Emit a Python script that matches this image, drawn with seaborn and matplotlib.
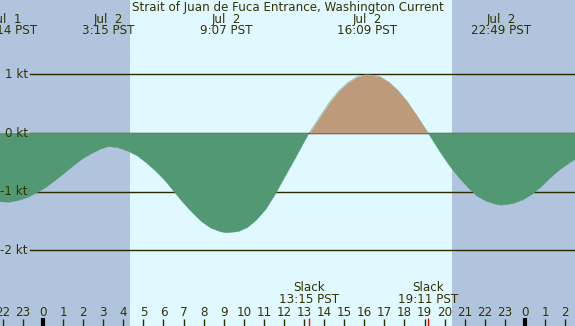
import matplotlib
matplotlib.use("Agg")
import matplotlib.pyplot as plt
import matplotlib.transforms as mtransforms
import numpy as np
import pandas as pd
import seaborn as sns

# ---- data (hours relative to Jul 2 00:00 PST, speed in knots) ----
hours = [-2.14, -1.69, -1.23, -0.77, -0.32, 0.14, 0.60, 1.05, 1.51, 1.97,
         2.42, 2.88, 3.25, 3.70, 4.25, 4.71, 5.16, 5.62, 6.08, 6.53,
         6.99, 7.45, 7.90, 8.36, 8.82, 9.12, 9.73, 10.19, 10.64, 11.10,
         11.56, 12.01, 12.47, 12.93, 13.25, 13.84, 14.29, 14.75, 15.21, 15.66,
         16.15, 16.76, 17.22, 17.67, 18.13, 18.59, 19.18, 19.77, 20.23, 20.69,
         21.14, 21.60, 22.06, 22.51, 22.82, 23.43, 23.88, 24.34, 24.80, 25.25,
         25.71, 26.17, 26.49]
speed = [-1.17, -1.18, -1.15, -1.10, -1.02, -0.93, -0.81, -0.69, -0.56, -0.44,
         -0.35, -0.27, -0.23, -0.245, -0.31, -0.39, -0.51, -0.65, -0.81, -1.00,
         -1.19, -1.36, -1.51, -1.62, -1.68, -1.70, -1.68, -1.61, -1.48, -1.30,
         -1.05, -0.77, -0.49, -0.20, 0.0, 0.31, 0.54, 0.73, 0.87, 0.965,
         1.0, 0.965, 0.87, 0.73, 0.54, 0.31, 0.0, -0.32, -0.55, -0.75,
         -0.92, -1.07, -1.16, -1.21, -1.23, -1.20, -1.14, -1.05, -0.92, -0.77,
         -0.63, -0.52, -0.45]

event_hours = [-1.77, 3.25, 9.117, 16.15, 22.817]
event_dates = ["Jul  1", "Jul  2", "Jul  2", "Jul  2", "Jul  2"]
event_times = ["22:14 PST", "3:15 PST", "9:07 PST", "16:09 PST", "22:49 PST"]

slack_hours = [13.25, 19.183]
slack_times = ["13:15 PST", "19:11 PST"]

sunrise, sunset = 4.33, 20.37
level_values = [1, 0, -1, -2]
level_labels = ["1 kt", "0 kt", "-1 kt", "-2 kt"]
hour_ticks = list(range(-2, 27))
hour_labels = [str(h % 24) for h in hour_ticks]
title = "Strait of Juan de Fuca Entrance, Washington Current"

# ---- style ----
NIGHT = "#b0c4de"
DAY = "#e0f8ff"
GREEN = "#529873"
TAN = "#bd9b7a"
INK = "#333300"
LINE = "#2b2b00"
FS = 8.6

W, H = 575, 326
fig = plt.figure(figsize=(W / 100, H / 100), dpi=100)
ax = fig.add_axes([0, 0, 1, 1])
x0, x1 = -2.14, 26.49
y0, y1 = -3.29, 2.27
ax.set_xlim(x0, x1)
ax.set_ylim(y0, y1)
ax.axis("off")

# day / night background
ax.axvspan(x0, x1, color=DAY, zorder=0, lw=0)
ax.axvspan(x0, sunrise, color=NIGHT, zorder=0.1, lw=0)
ax.axvspan(sunset, x1, color=NIGHT, zorder=0.1, lw=0)

# level lines
for v in level_values:
    ax.axhline(v, xmin=30 / W, xmax=1, color=LINE, lw=1.0, zorder=1)

df = pd.DataFrame({"hour": hours, "speed": speed})
sns.lineplot(data=df, x="hour", y="speed", ax=ax, color=GREEN, lw=0.3, zorder=1.5)
h = np.array(hours)
s = np.array(speed)
ax.fill_between(h, 0, s, where=s <= 0, interpolate=True, color=GREEN, lw=0, zorder=2)
ax.fill_between(h, 0, s, where=s >= 0, interpolate=True, color=TAN, lw=0, zorder=2)

# level labels
xlab = (28 - 43) / 20.08
for v, lab in zip(level_values, level_labels):
    ax.text(xlab, v, lab, ha="right", va="center", fontsize=FS, color=INK, zorder=3)

tr = mtransforms.blended_transform_factory(ax.transData, ax.transAxes)

# hour ticks and labels
for hh, lab in zip(hour_ticks, hour_labels):
    if hh % 24 == 0:
        ax.vlines(hh, 0, 8 / H, transform=tr, color="black", lw=3, zorder=3)
    else:
        ax.vlines(hh, 0, 7 / H, transform=tr, color=LINE, lw=1, zorder=3)
    ax.text(hh, 1 - 312.5 / H, lab, transform=tr, ha="center", va="center",
            fontsize=FS, color=INK, zorder=3)

# slack markers
for hh, t in zip(slack_hours, slack_times):
    ax.vlines(hh, 0, 8 / H, transform=tr, color="red", lw=1, zorder=3)
    ax.text(hh, 1 - 287.5 / H, "Slack", transform=tr, ha="center", va="center",
            fontsize=FS, color=INK, zorder=3)
    ax.text(hh, 1 - 299.5 / H, t, transform=tr, ha="center", va="center",
            fontsize=FS, color=INK, zorder=3)

# event labels at top
for hh, d, t in zip(event_hours, event_dates, event_times):
    ax.text(hh, 1 - 19 / H, d, transform=tr, ha="center", va="center",
            fontsize=FS, color=INK, zorder=3)
    ax.text(hh, 1 - 31 / H, t, transform=tr, ha="center", va="center",
            fontsize=FS, color=INK, zorder=3)

fig.text(0.5, 1 - 7.5 / H, title, ha="center", va="center", fontsize=FS, color=INK)

fig.savefig("out.png", dpi=100)
